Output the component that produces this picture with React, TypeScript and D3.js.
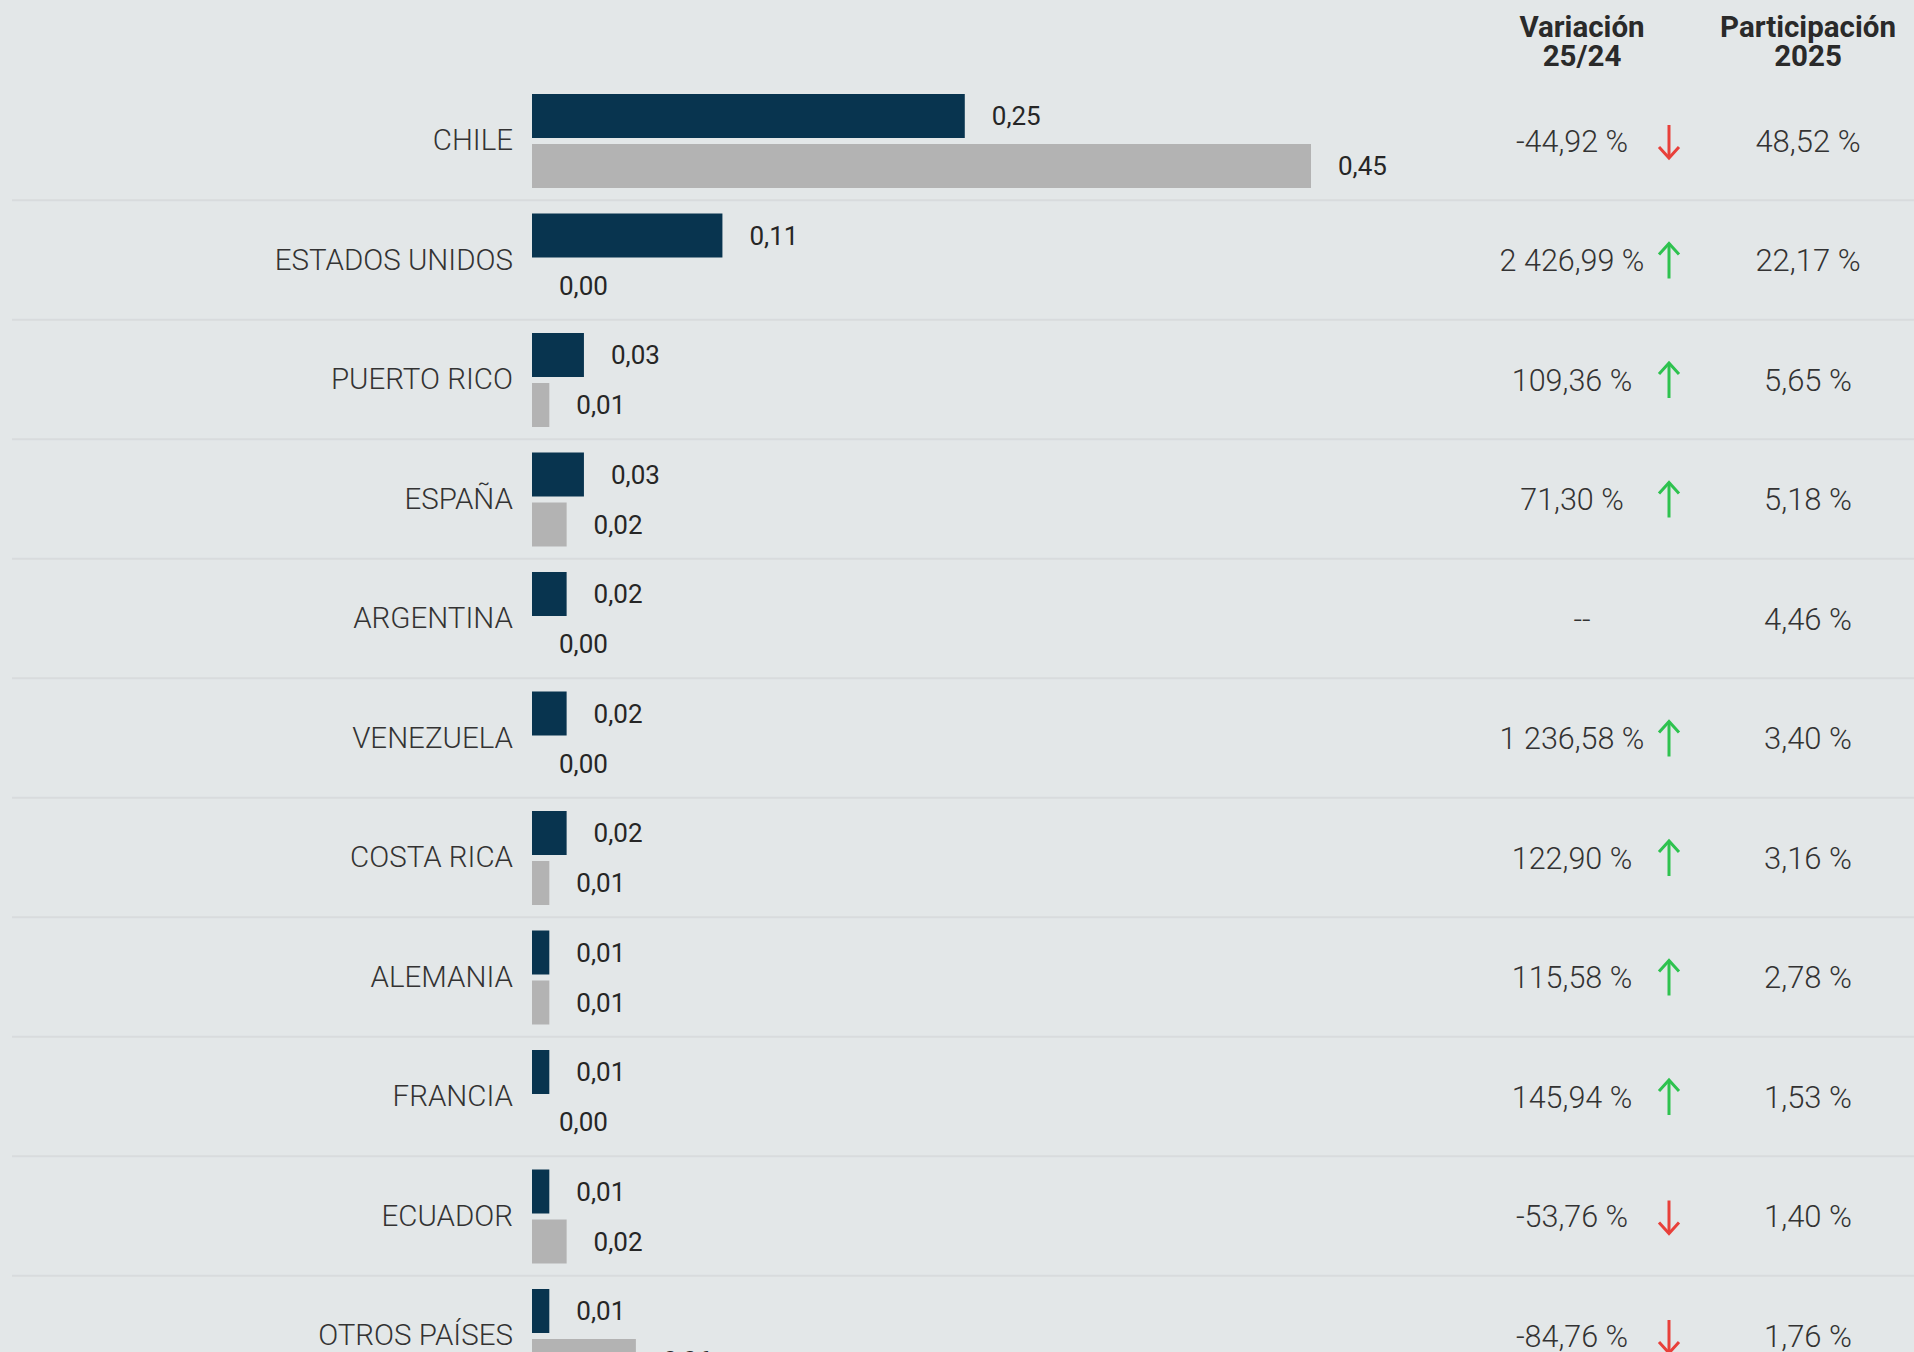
import React from "react";
import * as d3 from "d3";

const countries = ["CHILE", "ESTADOS UNIDOS", "PUERTO RICO", "ESPAÑA", "ARGENTINA", "VENEZUELA", "COSTA RICA", "ALEMANIA", "FRANCIA", "ECUADOR", "OTROS PAÍSES"];
const values2025 = [0.25, 0.11, 0.03, 0.03, 0.02, 0.02, 0.02, 0.01, 0.01, 0.01, 0.01];
const values2024 = [0.45, 0.0, 0.01, 0.02, 0.0, 0.0, 0.01, 0.01, 0.0, 0.02, 0.06];
const variation: (number | null)[] = [-44.92, 2426.99, 109.36, 71.3, null, 1236.58, 122.9, 115.58, 145.94, -53.76, -84.76];
const share2025 = [48.52, 22.17, 5.65, 5.18, 4.46, 3.4, 3.16, 2.78, 1.53, 1.4, 1.76];
const headers = [["Variación", "25/24"], ["Participación", "2025"]];

const W = 1914;
const H = 1352;
const FONT = "Roboto, 'Noto Sans', sans-serif";

const locale = d3.formatLocale({ decimal: ",", thousands: " ", grouping: [3], currency: ["", ""], minus: "-" });
const fmt2 = locale.format(",.2f");

export default function App() {
  const x = d3.scaleLinear().domain([0, 0.45]).range([532, 1311]);
  const y = d3.scaleBand<number>().domain(d3.range(countries.length)).range([80.7, 80.7 + 119.5 * countries.length]).padding(0);
  const inner = d3.scaleBand<string>().domain(["2025", "2024"]).range([13.3, 107.3]).paddingInner(0.12);

  const varX = 1572;
  const arrowX = 1669;
  const shareX = 1808;
  const headerX = [1582, 1808];

  return (
    <svg width={W} height={H} style={{ position: "absolute", left: 0, top: 0, background: "#e3e7e8" }} fontFamily={FONT}>
      <rect x={0} y={0} width={W} height={H} fill="#e3e7e8" />
      {headers.map((h, j) => (
        <g key={j}>
          <text x={headerX[j]} y={37} textAnchor="middle" fontSize={29.5} fontWeight={700} fill="#2a2a2a">{h[0]}</text>
          <text x={headerX[j]} y={66} textAnchor="middle" fontSize={29.5} fontWeight={700} fill="#2a2a2a">{h[1]}</text>
        </g>
      ))}
      {countries.map((c, i) => {
        const top = y(i)!;
        const cy = top + 13.3 + 47;
        const yA = top + inner("2025")!;
        const yB = top + inner("2024")!;
        const bh = inner.bandwidth();
        const v = variation[i];
        return (
          <g key={c}>
            {i < countries.length - 1 && (
              <line x1={12} x2={W} y1={top + 119.5} y2={top + 119.5} stroke="#d8dbdd" strokeWidth={2} />
            )}
            <text x={513} y={cy - 1} dy="0.35em" textAnchor="end" fontSize={29.5} fontWeight={300} fill="#333">{c}</text>
            <rect x={x(0)} y={yA} width={x(values2025[i]) - x(0)} height={bh} fill="#08344f" />
            <rect x={x(0)} y={yB} width={x(values2024[i]) - x(0)} height={bh} fill="#b3b3b3" />
            <text x={x(values2025[i]) + 27} y={yA + bh / 2} dy="0.35em" fontSize={26} fill="#262626">{fmt2(values2025[i])}</text>
            <text x={x(values2024[i]) + 27} y={yB + bh / 2} dy="0.35em" fontSize={26} fill="#262626">{fmt2(values2024[i])}</text>
            {v === null ? (
              <text x={1582} y={cy} dy="0.35em" textAnchor="middle" fontSize={30} fontWeight={300} fill="#333">--</text>
            ) : (
              <g>
                <text x={varX} y={cy} dy="0.35em" textAnchor="middle" fontSize={30.5} fontWeight={300} fill="#333">{fmt2(v) + " %"}</text>
                {v >= 0 ? (
                  <g stroke="#2ec24f" strokeWidth={3} fill="none">
                    <line x1={arrowX} x2={arrowX} y1={cy - 17} y2={cy + 18} />
                    <polyline points={`${arrowX - 10},${cy - 6} ${arrowX},${cy - 17} ${arrowX + 10},${cy - 6}`} />
                  </g>
                ) : (
                  <g stroke="#e8403a" strokeWidth={3} fill="none">
                    <line x1={arrowX} x2={arrowX} y1={cy - 16} y2={cy + 17} />
                    <polyline points={`${arrowX - 10},${cy + 6} ${arrowX},${cy + 17} ${arrowX + 10},${cy + 6}`} />
                  </g>
                )}
              </g>
            )}
            <text x={shareX} y={cy} dy="0.35em" textAnchor="middle" fontSize={31} fontWeight={300} fill="#333">{fmt2(share2025[i]) + " %"}</text>
          </g>
        );
      })}
    </svg>
  );
}
